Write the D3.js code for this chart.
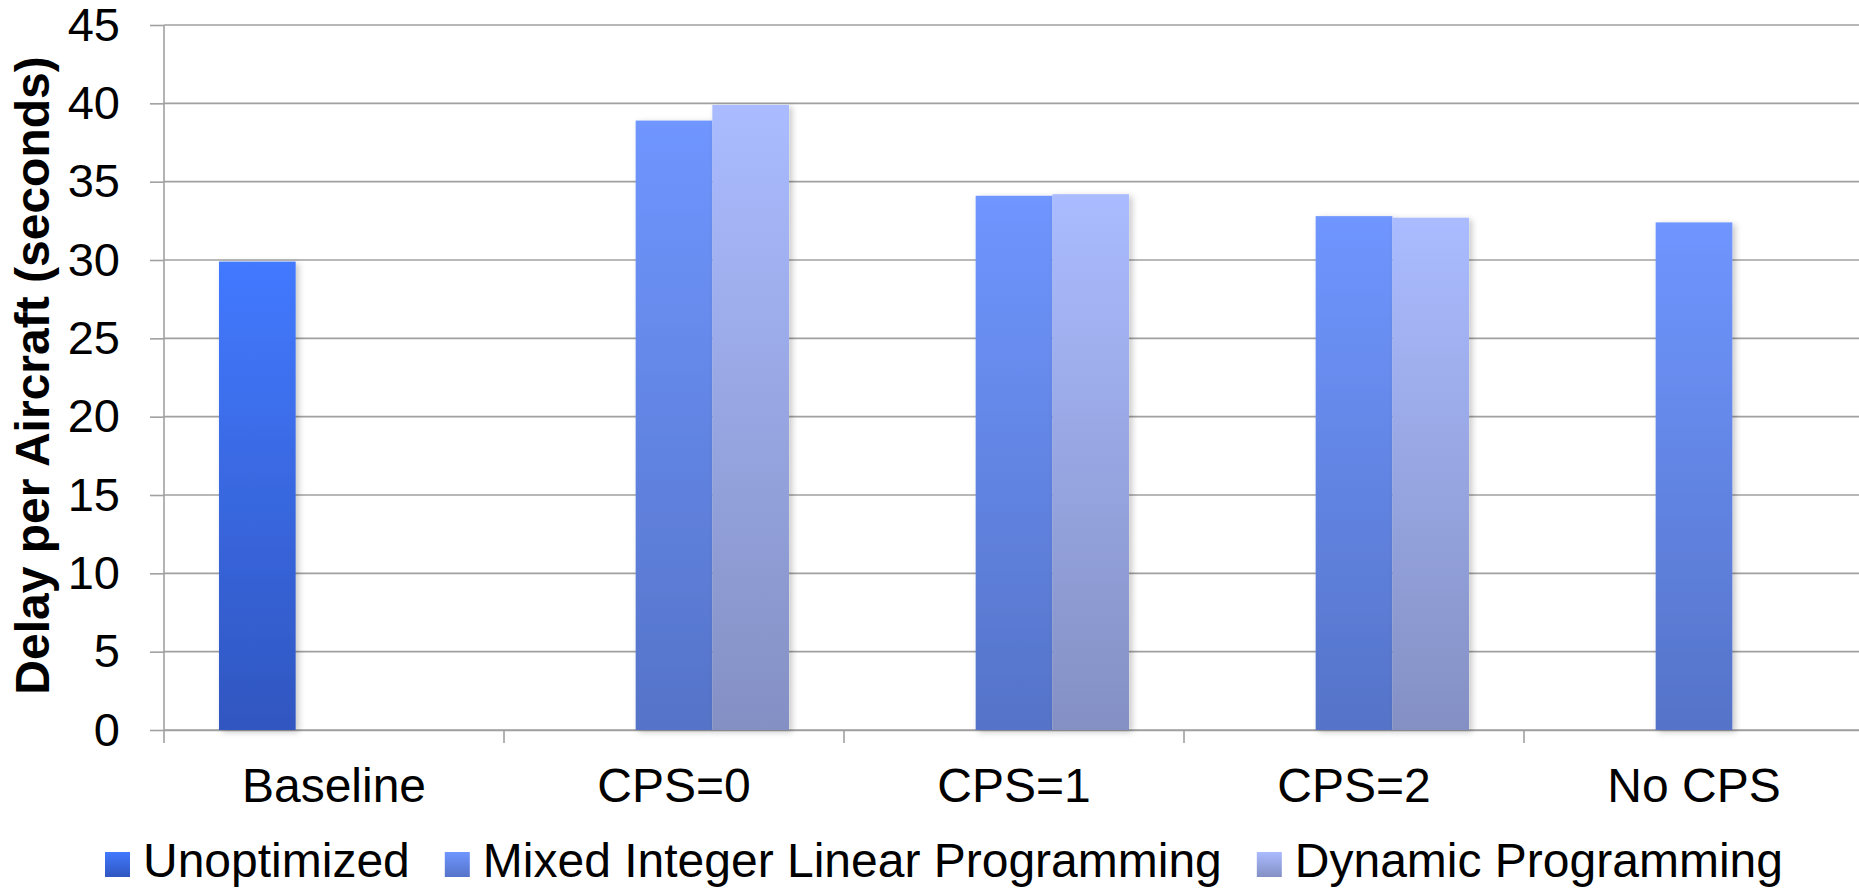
<!DOCTYPE html>
<html lang="en">
<head>
<meta charset="UTF-8">
<title>Delay per Aircraft</title>
<script src="https://cdnjs.cloudflare.com/ajax/libs/d3/7.8.5/d3.min.js"></script>
<style>
    html, body {
        margin: 0;
        padding: 0;
        background: #ffffff;
    }
    svg {
        display: block;
        font-family: "Liberation Sans", Arial, Helvetica, sans-serif;
    }
    .grid line, .axis line, .axis path {
        stroke: #a0a0a0;
        stroke-width: 1.6;
    }
    .axis text {
        fill: #000;
        font-size: 47px;
    }
    .x-axis text, .legend text {
        fill: #000;
        font-size: 48px;
    }
</style>
</head>
<body>
<div id="chart"></div>
<script>
    // Data
    const categories = ["Baseline", "CPS=0", "CPS=1", "CPS=2", "No CPS"];
    const seriesNames = ["Unoptimized", "Mixed Integer Linear Programming", "Dynamic Programming"];
    const unoptimized = [29.9, null, null, null, null];
    const milp = [null, 38.9, 34.1, 32.8, 32.4];
    const dynProg = [null, 39.9, 34.2, 32.7, null];
    const yTicks = [0, 5, 10, 15, 20, 25, 30, 35, 40, 45];
    const yTitle = "Delay per Aircraft (seconds)";

    // gradient colours (top, bottom) per series
    const topColors = ["#4279ff", "#6f96ff", "#aabbff"];
    const bottomColors = ["#3056c0", "#5573c8", "#8490c4"];

    const seriesValues = [unoptimized, milp, dynProg];

    const width = 1859;
    const height = 889;
    const plot = {left: 164, right: 1864, top: 25, bottom: 730};

    const svg = d3.select("#chart")
        .append("svg")
        .attr("width", width)
        .attr("height", height);

    const defs = svg.append("defs");
    seriesNames.forEach((s, i) => {
        const g = defs.append("linearGradient")
            .attr("id", "grad" + i)
            .attr("x1", 0).attr("y1", 0)
            .attr("x2", 0).attr("y2", 1);
        g.append("stop").attr("offset", "0%").attr("stop-color", topColors[i]);
        g.append("stop").attr("offset", "100%").attr("stop-color", bottomColors[i]);
    });

    const shadow = defs.append("filter")
        .attr("id", "shadow")
        .attr("x", "-20%").attr("y", "-5%")
        .attr("width", "150%").attr("height", "120%");
    shadow.append("feDropShadow")
        .attr("dx", 3).attr("dy", 2)
        .attr("stdDeviation", 3)
        .attr("flood-color", "#000")
        .attr("flood-opacity", 0.22);

    // Scales
    const x0 = d3.scaleBand()
        .domain(categories)
        .range([plot.left, plot.right])
        .paddingInner(0)
        .paddingOuter(0);

    const x1 = d3.scaleBand()
        .domain(d3.range(seriesNames.length))
        .range([0, x0.bandwidth()])
        .paddingInner(0)
        .paddingOuter(0.717);

    const y = d3.scaleLinear()
        .domain([0, 45])
        .range([plot.bottom, plot.top]);

    // Gridlines
    svg.append("g")
        .attr("class", "grid")
        .selectAll("line")
        .data(yTicks)
        .join("line")
        .attr("x1", plot.left)
        .attr("x2", plot.right)
        .attr("y1", d => y(d))
        .attr("y2", d => y(d));

    // Y axis
    const yAxis = svg.append("g")
        .attr("class", "axis")
        .attr("transform", `translate(${plot.left},0)`)
        .call(d3.axisLeft(y).tickValues(yTicks).tickSize(14).tickSizeOuter(0).tickPadding(30));
    yAxis.select(".domain").remove();
    yAxis.append("line")
        .attr("x1", 0).attr("x2", 0)
        .attr("y1", plot.top)
        .attr("y2", plot.bottom + 13);
    yAxis.selectAll("text")
        .attr("font-family", null)
        .attr("font-size", null);

    // X axis
    const xAxis = svg.append("g")
        .attr("class", "axis x-axis")
        .attr("transform", `translate(0,${plot.bottom})`)
        .call(d3.axisBottom(x0).tickSize(0).tickSizeOuter(0).tickPadding(38));
    xAxis.selectAll("text")
        .attr("font-family", null)
        .attr("font-size", null);
    xAxis.selectAll(".tick line").remove();
    xAxis.selectAll(".boundary")
        .data(categories.slice(1))
        .join("line")
        .attr("class", "boundary")
        .attr("x1", d => x0(d))
        .attr("x2", d => x0(d))
        .attr("y1", 0)
        .attr("y2", 13);

    // Bars
    const bars = [];
    categories.forEach((c, ci) => {
        seriesValues.forEach((vals, si) => {
            if (vals[ci] != null) bars.push({cat: c, series: si, value: vals[ci]});
        });
    });

    svg.append("g")
        .selectAll("rect")
        .data(bars)
        .join("rect")
        .attr("x", d => x0(d.cat) + x1(d.series))
        .attr("y", d => y(d.value))
        .attr("width", x1.bandwidth())
        .attr("height", d => y(0) - y(d.value))
        .attr("fill", d => `url(#grad${d.series})`)
        .attr("filter", "url(#shadow)");

    // Y axis title
    svg.append("text")
        .attr("transform", `translate(49,${(plot.top + plot.bottom) / 2 - 2}) rotate(-90)`)
        .attr("text-anchor", "middle")
        .attr("font-size", 48)
        .attr("font-weight", "bold")
        .text(yTitle);

    // Legend
    const legend = svg.append("g").attr("class", "legend");
    let lx = 105;
    seriesNames.forEach((s, i) => {
        legend.append("rect")
            .attr("x", lx)
            .attr("y", 852)
            .attr("width", 25)
            .attr("height", 25)
            .attr("fill", `url(#grad${i})`);
        const t = legend.append("text")
            .attr("x", lx + 38)
            .attr("y", 877)
            .text(s);
        lx += 38 + t.node().getComputedTextLength() + 35;
    });
</script>
</body>
</html>
